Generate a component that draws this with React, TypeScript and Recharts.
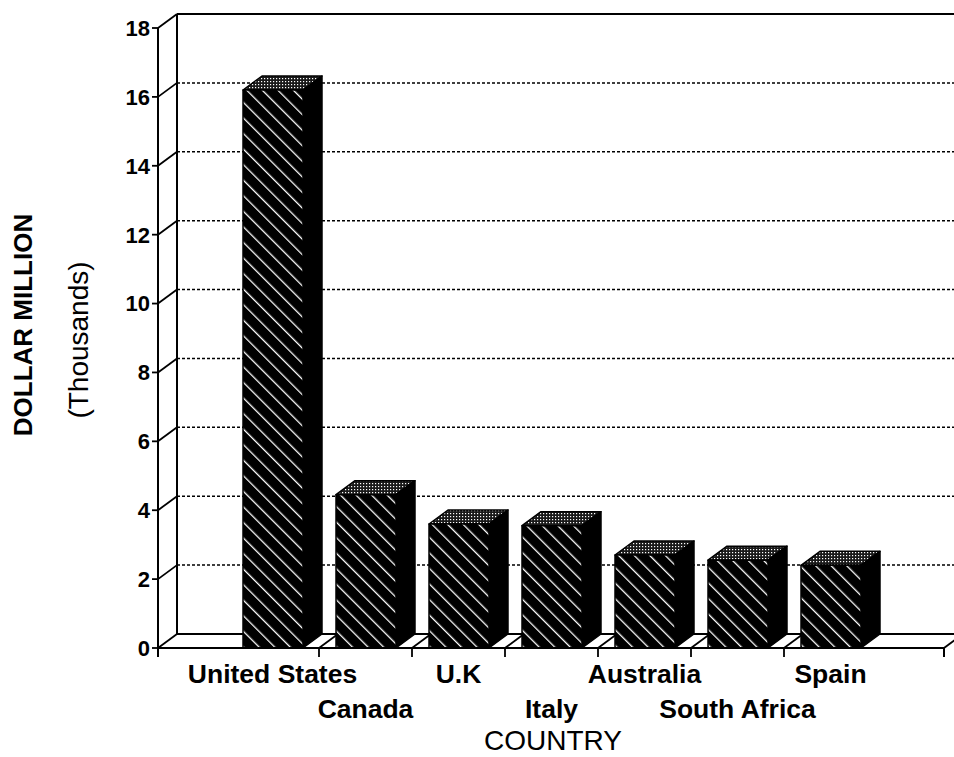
import { BarChart, Bar, XAxis, YAxis, CartesianGrid, Customized } from 'recharts';

const countries = ['United States', 'Canada', 'U.K', 'Italy', 'Australia', 'South Africa', 'Spain'];
const values = [16.2, 4.45, 3.6, 3.55, 2.7, 2.55, 2.4];
const yTicks = [0, 2, 4, 6, 8, 10, 12, 14, 16, 18];

const data = countries.map((country, i) => ({ country, value: values[i] }));

// layout
const W = 954;
const H = 757;
const LEFT = 158;
const TOP = 28;
const RIGHT = 944;
const BOTTOM = 648;
const DX = 19; // depth offset of the 3d box
const DY = 14;
const Y_AXIS_W = 60;
const X_AXIS_H = 100;
const PAD_L = 68;
const PAD_R = 67;
const STEP = (RIGHT - LEFT - PAD_L - PAD_R) / countries.length;
const FONT = '"Liberation Sans", Arial, Helvetica, sans-serif';

function Frame() {
  return (
    <g>
      <defs>
        <pattern id="hatch" patternUnits="userSpaceOnUse" width={11} height={11} patternTransform="rotate(-45)">
          <rect width={11} height={11} fill="#000" />
          <line x1={0} y1={0} x2={0} y2={11} stroke="#fff" strokeWidth={2.6} />
        </pattern>
        <pattern id="stipple" patternUnits="userSpaceOnUse" width={3} height={3}>
          <rect width={3} height={3} fill="#1a1a1a" />
          <rect width={1.2} height={1.2} fill="#fff" />
        </pattern>
      </defs>
      <g stroke="#000" strokeWidth={2}>
        <line x1={LEFT + DX} y1={TOP - DY} x2={LEFT + DX} y2={BOTTOM - DY} />
        <line x1={LEFT + DX} y1={TOP - DY} x2={W} y2={TOP - DY} />
        <line x1={LEFT + DX} y1={BOTTOM - DY} x2={RIGHT + DX} y2={BOTTOM - DY} />
        <line x1={RIGHT} y1={BOTTOM} x2={RIGHT + DX} y2={BOTTOM - DY} />
        <line x1={LEFT} y1={BOTTOM} x2={LEFT} y2={BOTTOM + 9} />
        <line x1={RIGHT} y1={BOTTOM} x2={RIGHT} y2={BOTTOM + 9} />
      </g>
      <text
        transform="translate(23, 325) rotate(-90)"
        textAnchor="middle"
        dy="0.36em"
        fontFamily={FONT}
        fontWeight="bold"
        fontSize={26}
        fill="#000">
        DOLLAR MILLION
      </text>
      <text
        transform="translate(78, 340) rotate(-90)"
        textAnchor="middle"
        dy="0.36em"
        fontFamily={FONT}
        fontSize={28}
        fill="#000">
        (Thousands)
      </text>
      <text x={553} y={750} textAnchor="middle" fontFamily={FONT} fontSize={28} fill="#000">
        COUNTRY
      </text>
    </g>
  );
}

function Box3D(props: any) {
  const { x, y, width, height } = props;
  if (!height || height <= 0) return null;
  const r = x + width;
  const b = y + height;
  return (
    <g stroke="#000" strokeWidth={1.5} strokeLinejoin="round">
      <polygon points={`${x},${y} ${x + DX},${y - DY} ${r + DX},${y - DY} ${r},${y}`} fill="url(#stipple)" />
      <polygon points={`${r},${y} ${r + DX},${y - DY} ${r + DX},${b - DY} ${r},${b}`} fill="#000" />
      <rect x={x} y={y} width={width} height={height} fill="url(#hatch)" />
    </g>
  );
}

function YTick(props: any) {
  const { x, y, payload } = props;
  return (
    <g>
      <line x1={x - 6} y1={y} x2={x} y2={y} stroke="#000" strokeWidth={1.8} />
      <line x1={x} y1={y} x2={x + DX} y2={y - DY} stroke="#000" strokeWidth={1.8} />
      <text x={x - 8} y={y} dy="0.36em" textAnchor="end" fontFamily={FONT} fontWeight="bold" fontSize={22} fill="#000">
        {payload.value}
      </text>
    </g>
  );
}

function XTick(props: any) {
  const { x, y, payload, index } = props;
  const bx = x + STEP / 2;
  const baseline = index % 2 === 0 ? 35 : 70;
  return (
    <g>
      {index < countries.length - 1 && (
        <g stroke="#000" strokeWidth={1.8}>
          <line x1={bx} y1={y} x2={bx} y2={y + 9} />
          <line x1={bx} y1={y} x2={bx + DX} y2={y - DY} />
        </g>
      )}
      <text x={x} y={y + baseline} textAnchor="middle" fontFamily={FONT} fontWeight="bold" fontSize={26.5} fill="#000">
        {payload.value}
      </text>
    </g>
  );
}

function gridLine(props: any) {
  const { x1, x2, y1, index } = props;
  return (
    <line
      key={`grid-${index}`}
      x1={x1 + DX}
      x2={x2 + DX}
      y1={y1 - DY}
      y2={y1 - DY}
      stroke="#000"
      strokeWidth={1.5}
      strokeDasharray="3 2"
    />
  );
}

export default function App() {
  return (
    <div style={{ position: 'absolute', left: 0, top: 0, background: '#fff' }}>
      <BarChart
        width={W}
        height={H}
        data={data}
        margin={{ top: TOP, right: W - RIGHT, left: LEFT - Y_AXIS_W, bottom: H - BOTTOM - X_AXIS_H }}>
        <Customized component={<Frame />} />
        <CartesianGrid vertical={false} horizontal={gridLine} />
        <XAxis
          dataKey="country"
          height={X_AXIS_H}
          padding={{ left: PAD_L, right: PAD_R }}
          interval={0}
          tickSize={0}
          tickMargin={0}
          tickLine={false}
          axisLine={{ stroke: '#000', strokeWidth: 2 }}
          tick={<XTick />}
        />
        <YAxis
          width={Y_AXIS_W}
          domain={[0, 18]}
          ticks={yTicks}
          interval={0}
          tickSize={0}
          tickMargin={0}
          tickLine={false}
          axisLine={{ stroke: '#000', strokeWidth: 2 }}
          tick={<YTick />}
        />
        <Bar dataKey="value" barSize={60} shape={<Box3D />} isAnimationActive={false} />
      </BarChart>
    </div>
  );
}
